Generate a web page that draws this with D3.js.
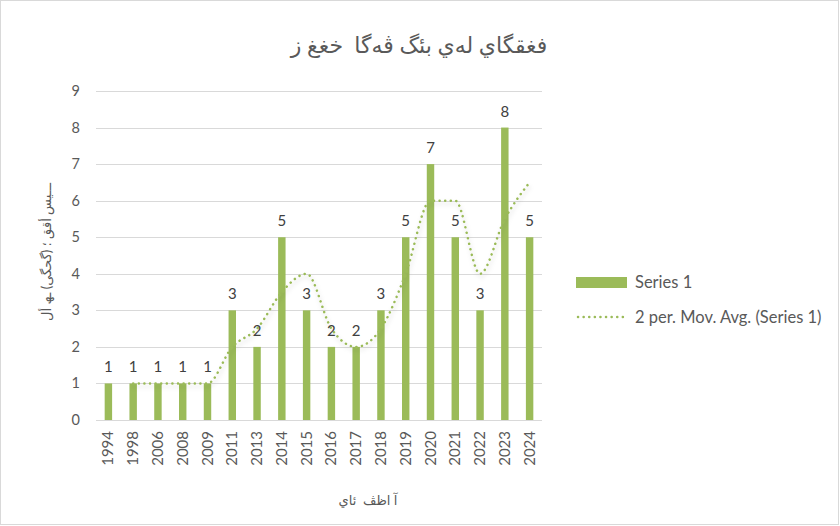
<!DOCTYPE html>
<html>
<head>
<meta charset="utf-8">
<script src="https://cdn.jsdelivr.net/npm/d3@7"></script>
<style>
  body { margin: 0; background: #fff; }
  text { font-family: Lato, "DejaVu Sans", sans-serif; fill: #595959; }
</style>
</head>
<body>
<div id="chart"></div>
<script>
var years = ["1994","1998","2006","2008","2009","2011","2013","2014","2015","2016","2017","2018","2019","2020","2021","2022","2023","2024"];
var counts = [1,1,1,1,1,3,2,5,3,2,2,3,5,7,5,3,8,5];
// 2 period moving average (starts at 1998)
var movAvg = [null,1,1,1,1,2,2.5,3.5,4,2.5,2,2.5,4,6,6,4,5.5,6.5];
var yTicks = [0,1,2,3,4,5,6,7,8,9];

var titleText = "فغقگاي لەي بئگ ڨەگا  خغغ ز";
var yTitle = "ـــيس أقق ؛ (گحگى) ـھ أل";
var xTitle = "آ اظڤ  ئاي";
var legendNames = ["Series 1", "2 per. Mov. Avg. (Series 1)"];

var W = 840, H = 526;
var green = "#9bbb59";

var svg = d3.select("#chart")
    .append("svg")
    .attr("width", W)
    .attr("height", H)

svg.append("rect")
    .attr("x", 0.5).attr("y", 0.5)
    .attr("width", W - 2).attr("height", H - 2)
    .style("fill", "#fff")
    .style("stroke", "#d9d9d9")

var defs = svg.append("defs");
var f = defs.append("filter").attr("id", "shadow")
    .attr("x", "-10%").attr("y", "-10%").attr("width", "120%").attr("height", "130%");
f.append("feDropShadow")
    .attr("dx", 1).attr("dy", 3).attr("stdDeviation", 2)
    .attr("flood-color", "#000").attr("flood-opacity", 0.18);

var x = d3.scaleBand()
    .domain(years)
    .range([96, 542])
    .paddingInner(0.7)
    .paddingOuter(0.35);

var y = d3.scaleLinear()
    .domain([0, 9])
    .range([420, 91]);

// gridlines
svg.append("g")
    .selectAll("line")
    .data(yTicks)
    .enter()
    .append("line")
    .attr("x1", 96)
    .attr("x2", 542)
    .attr("y1", function(d){ return Math.round(y(d)) + 0.5 })
    .attr("y2", function(d){ return Math.round(y(d)) + 0.5 })
    .style("stroke", "#d9d9d9")
    .style("stroke-width", 1)

// y labels
svg.append("g")
    .selectAll("text")
    .data(yTicks)
    .enter()
    .append("text")
    .attr("x", 80)
    .attr("y", function(d){ return y(d) + 5 })
    .attr("text-anchor", "end")
    .style("font-size", "14.5px")
    .text(function(d){ return d })

// bars
svg.append("g")
    .selectAll("rect")
    .data(counts)
    .enter()
    .append("rect")
    .attr("x", function(d, i){ return x(years[i]) })
    .attr("width", x.bandwidth())
    .attr("y", function(d){ return y(d) })
    .attr("height", function(d){ return y(0) - y(d) })
    .style("fill", green)

// x labels
svg.append("g")
    .selectAll("text")
    .data(years)
    .enter()
    .append("text")
    .attr("transform", function(d){
        return "translate(" + (x(d) + x.bandwidth() / 2 + 5) + ",431) rotate(-90)"
    })
    .attr("text-anchor", "end")
    .style("font-size", "15px")
    .text(function(d){ return d })

// moving average
var line = d3.line()
    .defined(function(d){ return d != null })
    .x(function(d, i){ return x(years[i]) + x.bandwidth() / 2 })
    .y(function(d){ return y(d) })
    .curve(d3.curveMonotoneX);

svg.append("path")
    .datum(movAvg)
    .attr("d", line)
    .attr("filter", "url(#shadow)")
    .style("fill", "none")
    .style("stroke", green)
    .style("stroke-width", 2.5)
    .style("stroke-linecap", "round")
    .style("stroke-dasharray", "0.1,5.5")

// data labels
svg.append("g")
    .selectAll("text")
    .data(counts)
    .enter()
    .append("text")
    .attr("x", function(d, i){ return x(years[i]) + x.bandwidth() / 2 })
    .attr("y", function(d){ return y(d) - 11 })
    .attr("text-anchor", "middle")
    .style("font-size", "15px")
    .style("fill", "#404040")
    .text(function(d){ return d })

// title
svg.append("text")
    .attr("x", 419)
    .attr("y", 53)
    .attr("text-anchor", "middle")
    .attr("direction", "rtl")
    .style("font-size", "22px")
    .style("white-space", "pre")
    .text(titleText)

svg.append("text")
    .attr("transform", "translate(51,252) rotate(-90)")
    .attr("text-anchor", "middle")
    .attr("direction", "rtl")
    .style("font-size", "13px")
    .text(yTitle)

svg.append("text")
    .attr("x", 368)
    .attr("y", 505)
    .attr("text-anchor", "middle")
    .attr("direction", "rtl")
    .style("font-size", "13px")
    .style("white-space", "pre")
    .text(xTitle)

// legend
var lg = svg.append("g");
lg.append("rect")
    .attr("x", 576).attr("y", 277)
    .attr("width", 51).attr("height", 11)
    .style("fill", green)
lg.append("line")
    .attr("x1", 578).attr("x2", 624)
    .attr("y1", 317).attr("y2", 317)
    .style("stroke", green)
    .style("stroke-width", 2.5)
    .style("stroke-linecap", "round")
    .style("stroke-dasharray", "0.1,5.5")
lg.selectAll("text.leg")
    .data(legendNames)
    .enter()
    .append("text")
    .attr("class", "leg")
    .attr("x", 635)
    .attr("y", function(d, i){ return 288 + i * 35 })
    .style("font-size", "16.5px")
    .text(function(d){ return d })
</script>
</body>
</html>
